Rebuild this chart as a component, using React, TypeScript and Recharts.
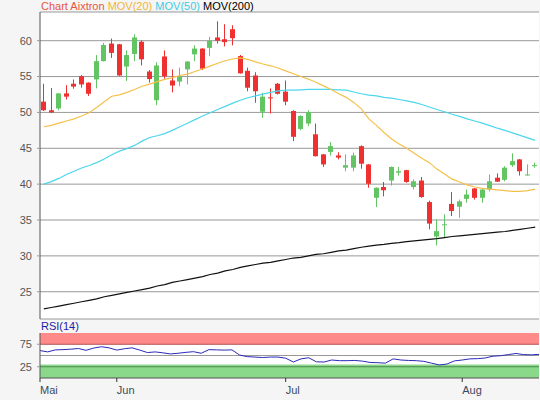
import {
  ComposedChart,
  Bar,
  Line,
  XAxis,
  YAxis,
  CartesianGrid,
  ReferenceArea,
  ReferenceLine,
} from "recharts";

const FONT = "Arial, 'Liberation Sans', sans-serif";
const RED = "#ee3030";
const GREEN = "#62c462";
const BORDER = "#555555";

// daily candles, mid May to mid Aug
const opens = [
  51.5, 50.3, 50.55, 52.65, 54.0, 55.05, 54.15, 54.6, 57.15, 59.6,
  59.5, 56.4, 58.15, 59.85, 55.7, 51.7, 57.8, 54.45, 54.3, 56.0,
  58.1, 58.9, 59.0, 60.45, 60.2, 61.6, 57.85, 55.8, 55.15, 50.1,
  52.1, 54.0, 52.9, 50.2, 47.7, 48.45, 46.95, 44.15, 44.5, 44.0,
  42.3, 42.3, 45.3, 42.75, 38.1, 39.6, 40.5, 41.6, 41.95, 39.6,
  40.5, 37.5, 32.7, 34.35, 37.25, 36.85, 37.95, 39.4, 38.1, 39.25,
  40.9, 40.6, 42.65, 43.45, 41.25, 42.55,
];
const highs = [
  54.0, 53.4, 52.7, 53.8, 54.6, 55.2, 54.2, 58.0, 59.7, 60.3,
  59.55, 58.65, 60.9, 60.05, 55.9, 57.0, 58.65, 56.0, 56.25, 57.15,
  59.35, 58.95, 60.55, 62.7, 62.3, 62.15, 58.0, 56.25, 55.6, 52.75,
  53.35, 54.1, 54.45, 50.3, 49.6, 50.3, 48.45, 44.2, 45.85, 44.45,
  44.15, 44.4, 45.4, 42.8, 39.55, 40.3, 42.45, 42.4, 42.0, 40.65,
  41.0, 37.7, 35.1, 35.8, 38.9, 37.85, 39.25, 39.45, 39.3, 41.35,
  41.5, 42.5, 44.3, 43.5, 42.75, 43.0,
];
const lows = [
  50.2, 49.9, 50.3, 51.8, 53.3, 53.45, 52.3, 53.35, 57.1, 57.6,
  55.1, 54.4, 57.15, 56.55, 54.15, 51.0, 54.7, 52.8, 53.65, 53.9,
  57.15, 55.9, 57.85, 59.6, 59.2, 59.35, 55.4, 52.95, 51.35, 49.25,
  49.85, 52.5, 51.0, 46.0, 47.5, 48.1, 43.85, 42.4, 44.0, 43.45,
  41.8, 41.8, 42.15, 39.5, 36.8, 38.3, 39.8, 41.2, 40.2, 39.25,
  38.1, 33.7, 31.45, 32.5, 35.55, 35.3, 37.4, 37.85, 37.4, 39.0,
  40.3, 40.4, 42.4, 41.2, 41.2, 42.3,
];
const closes = [
  50.3, 50.0, 52.65, 52.2, 53.6, 53.9, 52.6, 57.15, 59.4, 58.3,
  55.15, 58.0, 60.45, 57.4, 54.65, 56.55, 55.05, 53.75, 55.0, 57.1,
  58.9, 56.1, 60.0, 60.0, 59.8, 60.35, 55.45, 53.45, 52.95, 52.2,
  52.0, 52.6, 51.5, 46.6, 49.5, 50.05, 43.9, 42.75, 45.3, 43.7,
  42.65, 44.0, 42.85, 40.05, 39.5, 39.15, 42.4, 41.8, 40.3, 40.4,
  38.2, 34.5, 33.45, 34.4, 36.25, 37.6, 38.55, 38.1, 39.25, 40.4,
  40.35, 42.3, 43.2, 41.8, 41.35, 42.65,
];

const mov20 = [
  48.0, 48.2, 48.5, 48.8, 49.1, 49.5, 49.95, 50.7, 51.5, 52.25,
  52.45, 52.8, 53.2, 53.65, 53.95, 54.3, 54.6, 54.85, 55.15, 55.35,
  55.7, 56.05, 56.45, 56.85, 57.2, 57.45, 57.6, 57.4, 57.05, 56.75,
  56.5, 56.2, 55.8, 55.4, 55.0, 54.65, 54.2, 53.7, 53.2, 52.6,
  52.1, 51.4, 50.5, 49.1, 48.2, 47.2, 46.3, 45.6, 45.0, 44.3,
  43.6, 43.0, 42.1, 41.4, 40.7, 40.3, 39.9, 39.6, 39.4, 39.3,
  39.2, 39.1, 39.0, 39.0, 39.1, 39.3,
];
const mov50 = [
  40.0, 40.35, 40.8, 41.35, 41.8, 42.25, 42.6, 43.0, 43.5, 44.1,
  44.6, 44.95, 45.4, 46.0, 46.5, 46.75, 47.05, 47.5, 48.0, 48.5,
  49.0, 49.5, 49.95, 50.4, 50.85, 51.3, 51.7, 52.05, 52.3, 52.55,
  52.8, 53.0, 53.1, 53.1, 53.15, 53.2, 53.2, 53.2, 53.2, 53.15,
  53.1, 52.85, 52.6, 52.4, 52.3, 52.1, 52.0, 51.8, 51.6, 51.4,
  51.1, 50.75, 50.4, 50.1, 49.75, 49.45, 49.1, 48.8, 48.5, 48.15,
  47.8, 47.5, 47.15, 46.8, 46.45, 46.1,
];
const mov200 = [
  22.6, 22.8, 23.0, 23.2, 23.4, 23.6, 23.8, 24.0, 24.3, 24.5,
  24.7, 24.9, 25.1, 25.3, 25.5, 25.8, 26.0, 26.3, 26.5, 26.7,
  26.9, 27.1, 27.4, 27.6, 27.9, 28.1, 28.4, 28.6, 28.8, 29.0,
  29.1, 29.3, 29.5, 29.7, 29.8, 30.0, 30.2, 30.3, 30.5, 30.7,
  30.8, 31.0, 31.2, 31.35, 31.5, 31.6, 31.75, 31.85, 32.0, 32.1,
  32.2, 32.3, 32.4, 32.55, 32.7, 32.8, 32.9, 33.0, 33.1, 33.2,
  33.3, 33.4, 33.55, 33.7, 33.85, 34.0,
];
const rsi14 = [
  61, 58, 62.5, 63, 64, 65.5, 61.5, 66.5, 69.5, 67,
  62, 65, 67, 62, 56.5, 58, 56, 53.5, 55, 57,
  58.5, 55, 63, 62.5, 62, 62.5, 51, 47.5, 46.5, 45.5,
  46.5, 46.5, 44, 35.5, 42.5, 45, 36, 35.5, 40, 38.5,
  38.5, 39, 37.5, 34.5, 34, 33, 42.5, 40, 39, 38.5,
  37, 33, 29, 31, 38, 40, 42.5, 43, 44.5, 48.5,
  49.5, 52, 54.5, 52, 51.5, 52.5,
];

// first trading day of each month in the window
const monthTicks = [0, 10, 32, 55];
const monthNames = ["Mai", "Jun", "Jul", "Aug"];
const priceTicks = [25, 30, 35, 40, 45, 50, 55, 60];

const rows = opens.map((o, i) => ({
  i,
  open: o,
  high: highs[i],
  low: lows[i],
  close: closes[i],
  mov20: mov20[i],
  mov50: mov50[i],
  mov200: mov200[i],
  rsi: rsi14[i],
}));

function Candle(props: any) {
  const { x, y, width, height, payload } = props;
  if (x == null || y == null || !payload) return null;
  const { open, close, high, low } = payload;
  const top = Math.min(y, y + height);
  const h = Math.abs(height);
  const toY = (v: number) => top + ((high - v) / (high - low)) * h;
  const cx = Math.floor(x + width / 2) + 0.5;
  const color = close >= open ? GREEN : RED;
  const bTop = toY(Math.max(open, close));
  const bBot = toY(Math.min(open, close));
  return (
    <g>
      <line x1={cx} x2={cx} y1={top} y2={top + h} stroke={color} strokeWidth={1} />
      <rect
        x={cx - 2.5}
        y={bTop}
        width={5}
        height={Math.max(1, bBot - bTop)}
        fill={color}
      />
    </g>
  );
}

function MonthTick(props: any) {
  const { x, y, payload } = props;
  const idx = monthTicks.indexOf(payload.value);
  return (
    <text x={x} y={y + 10} fill="#3a4a5c" fontSize={11} fontFamily={FONT} textAnchor="start">
      {monthNames[idx]}
    </text>
  );
}

const yTick = { fill: "#555", fontSize: 11, fontFamily: FONT };

export default function App() {
  return (
    <div
      style={{
        position: "absolute",
        left: 0,
        top: 0,
        width: 540,
        height: 400,
        background: "#f5f5f5",
        fontFamily: FONT,
      }}
    >
      <div style={{ position: "absolute", left: 41, top: 0, fontSize: 11, lineHeight: "13px", whiteSpace: "nowrap" }}>
        <span style={{ color: "#e8553c" }}>Chart Aixtron </span>
        <span style={{ color: "#f2b632" }}>MOV(20) </span>
        <span style={{ color: "#3ccde6" }}>MOV(50) </span>
        <span style={{ color: "#000" }}>MOV(200)</span>
      </div>

      <div style={{ position: "absolute", left: 0, top: 0 }}>
        <ComposedChart
          width={540}
          height={320}
          data={rows}
          margin={{ top: 12, right: 1, bottom: 1, left: 0 }}
        >
          <CartesianGrid vertical={false} stroke="#999" fill="#fff" />
          <XAxis dataKey="i" tick={false} tickLine={false} height={0} axisLine={{ stroke: BORDER }} />
          <XAxis
            xAxisId="top"
            orientation="top"
            dataKey="i"
            tick={false}
            tickLine={false}
            height={0}
            axisLine={{ stroke: BORDER }}
          />
          <YAxis
            width={40}
            domain={[21.2, 64]}
            ticks={priceTicks}
            allowDataOverflow
            tick={yTick}
            tickSize={3}
            tickMargin={5}
            tickLine={{ stroke: "#999" }}
            axisLine={{ stroke: BORDER }}
          />
          <YAxis
            yAxisId="right"
            orientation="right"
            width={0}
            domain={[21.2, 64]}
            tick={false}
            tickLine={false}
            axisLine={{ stroke: BORDER }}
          />
          <Line dataKey="mov200" stroke="#111" strokeWidth={1.2} dot={false} activeDot={false} isAnimationActive={false} />
          <Line dataKey="mov50" stroke="#4dd6ec" strokeWidth={1.2} dot={false} activeDot={false} isAnimationActive={false} />
          <Line dataKey="mov20" stroke="#f5c04a" strokeWidth={1.2} dot={false} activeDot={false} isAnimationActive={false} />
          <Bar
            dataKey={(d: any) => [d.low, d.high]}
            barSize={5}
            shape={Candle}
            isAnimationActive={false}
          />
        </ComposedChart>
      </div>

      <div style={{ position: "absolute", left: 41, top: 320, fontSize: 11, lineHeight: "13px", color: "#1c1ca8" }}>
        RSI(14)
      </div>

      <div style={{ position: "absolute", left: 0, top: 320 }}>
        <ComposedChart
          width={540}
          height={80}
          data={rows}
          margin={{ top: 13, right: 1, bottom: 0, left: 0 }}
        >
          <CartesianGrid horizontal={false} vertical={false} fill="#fff" />
          <XAxis
            dataKey="i"
            ticks={monthTicks}
            height={22}
            tick={<MonthTick />}
            tickSize={4}
            tickMargin={2}
            tickLine={{ stroke: "#333" }}
            axisLine={{ stroke: BORDER }}
          />
          <XAxis
            xAxisId="top"
            orientation="top"
            dataKey="i"
            tick={false}
            tickLine={false}
            height={0}
            axisLine={{ stroke: BORDER }}
          />
          <YAxis
            width={40}
            domain={[0, 100]}
            ticks={[25, 75]}
            tick={yTick}
            tickSize={3}
            tickMargin={5}
            tickLine={{ stroke: "#999" }}
            axisLine={{ stroke: BORDER }}
          />
          <YAxis
            yAxisId="right"
            orientation="right"
            width={0}
            domain={[0, 100]}
            tick={false}
            tickLine={false}
            axisLine={{ stroke: BORDER }}
          />
          <ReferenceArea y1={75} y2={100} fill="#ff8a8a" fillOpacity={1} stroke="none" />
          <ReferenceArea y1={0} y2={30} fill="#8ad88a" fillOpacity={1} stroke="none" />
          <ReferenceLine y={75} stroke="#b05050" />
          <ReferenceLine y={50} stroke="#999" />
          <ReferenceLine y={25} stroke="#4a8a4a" />
          <Line dataKey="rsi" stroke="#2a2ab8" strokeWidth={1} dot={false} activeDot={false} isAnimationActive={false} />
        </ComposedChart>
      </div>
    </div>
  );
}
